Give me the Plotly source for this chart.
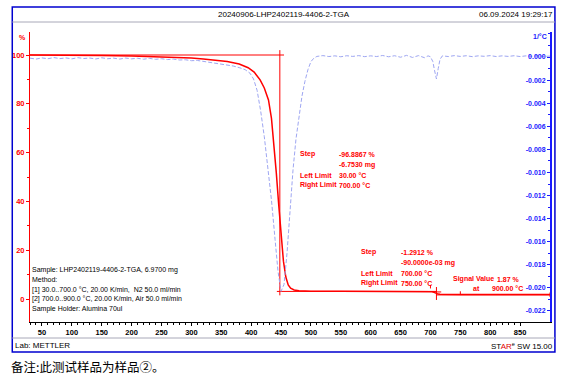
import plotly.graph_objects as go

# ---------------- data ----------------
tga_T = [30, 50, 100, 150, 200, 250, 280, 300, 320, 340, 360, 380, 395, 405, 415, 422,
         429, 434, 438, 442, 446, 450, 454, 458, 462, 466, 472, 480, 490, 500, 550, 600,
         650, 690, 700, 704, 707, 710, 713, 716, 720, 730, 750, 800, 850, 900]
tga_pct = [100.0, 100.0, 99.9, 99.8, 99.6, 99.3, 99.0, 98.8, 98.4, 97.9, 97.3, 96.3, 94.8, 93.0, 89.8, 86.5,
           81.6, 74.0, 64.0, 52.0, 39.0, 26.0, 15.5, 9.0, 5.8, 4.4, 3.7, 3.4, 3.25, 3.2, 3.15, 3.13,
           3.12, 3.11, 3.10, 2.95, 2.6, 2.25, 2.0, 1.92, 1.88, 1.86, 1.84, 1.85, 1.86, 1.87]

dtg_T = [30, 40, 50, 60, 70, 80, 90, 100, 110, 120, 130, 140, 150, 160, 170, 180, 190, 200,
         210, 220, 230, 240, 250, 260, 270, 280, 290, 300, 310, 320, 330, 340, 350, 360, 370,
         380, 390, 398, 404, 410, 416, 422, 428, 434, 440, 445, 450, 455, 460, 465, 470, 475,
         480, 485, 490, 495, 500, 505, 510, 520, 530, 540, 550, 560, 570, 580, 590, 600, 610,
         620, 630, 640, 650, 660, 670, 680, 690, 696, 700, 704, 707, 710, 713, 716, 720, 730,
         740, 750, 760, 770, 780, 790, 800, 810, 820, 830, 840, 850, 860, 870, 880, 890, 900]
dtg_v = [-0.00010, -0.00018, -0.00008, -0.00015, -0.00005, -0.00014, -0.00008, -0.00016, -0.00006,
         -0.00013, -0.00009, -0.00017, -0.00007, -0.00015, -0.00010, -0.00018, -0.00009, -0.00016,
         -0.00011, -0.00019, -0.00012, -0.00020, -0.00015, -0.00022, -0.00018, -0.00026, -0.00024,
         -0.00032, -0.00030, -0.00038, -0.00042, -0.00050, -0.00058, -0.00066, -0.00078, -0.00092,
         -0.00110, -0.0014, -0.0019, -0.0029, -0.0047, -0.0069, -0.0094, -0.0124, -0.0158, -0.0186,
         -0.0203, -0.0197, -0.0170, -0.0130, -0.0098, -0.0071, -0.0053, -0.0034, -0.0021, -0.0011,
         -0.0004, -0.0001, 0.00005, 0.00012, 0.00004, 0.00010, 0.00002, 0.00011, 0.00005, 0.00012,
         0.00003, 0.00010, 0.00004, 0.00013, 0.00002, 0.00011, -0.00002, 0.00014, -0.00004, 0.00012,
         -0.00006, 0.00010, 0.00002, -0.00040, -0.00120, -0.00190, -0.00100, -0.00020, 0.00010,
         0.00004, 0.00012, 0.00005, 0.00011, 0.00003, 0.00010, 0.00006, 0.00012, 0.00004, 0.00010,
         0.00005, 0.00011, 0.00004, 0.00010, 0.00006, 0.00012, 0.00005, 0.00008]

# evaluation results
step1_T = [30, 455]          # horizontal start line
step1_level = 100.0
step1_infl = 448
step1_end_level = 3.11
step2_infl = 710
step2_limits = [700, 750]
signal_T = 900
signal_val = 1.87

x_ticks = [50, 100, 150, 200, 250, 300, 350, 400, 450, 500, 550, 600, 650, 700, 750, 800, 850, 900]
x_text = ["50", "100", "150", "200", "250", "300", "350", "400", "450", "500", "550", "600",
          "650", "700", "750", "800", "850", "°C"]
y_ticks = [0, 20, 40, 60, 80, 100]
y2_ticks = [0.0, -0.002, -0.004, -0.006, -0.008, -0.010, -0.012, -0.014, -0.016, -0.018, -0.020, -0.022]
y2_text = ["0.000", "-0.002", "-0.004", "-0.006", "-0.008", "-0.010", "-0.012", "-0.014",
           "-0.016", "-0.018", "-0.020", "-0.022"]

# ---------------- layout helpers ----------------
W, H = 567, 379
L, R, T, B = 25, 553, 32, 322
FONT = "Liberation Sans, Arial, sans-serif"
RED = "#ff0000"
BLUE = "#1a1aff"
FRAME = "#0000d0"
PAD = 2  # annotation inner padding compensation


def px(x):
    return (x - L) / (R - L)


def py(y):
    return (B - y) / (B - T)


fig = go.Figure()
fig.add_trace(go.Scatter(x=dtg_T, y=dtg_v, yaxis="y2", mode="lines",
                         line=dict(color="#9ea6f2", width=1, dash="4px,2px"),
                         hoverinfo="skip", showlegend=False))
fig.add_trace(go.Scatter(x=tga_T, y=tga_pct, mode="lines",
                         line=dict(color=RED, width=1.5), hoverinfo="skip", showlegend=False))

# evaluation construction lines
mid2 = (step1_end_level + signal_val) / 2 + 0.4
ex = [step1_T[0], step1_T[1], None,
      step1_infl, step1_infl, None,
      step1_infl - 5, step2_infl, None,
      step2_infl, step2_infl, None,
      step2_infl - 7, step2_infl + 8, None,
      step2_limits[0], step2_limits[0], None,
      step2_limits[1], step2_limits[1], None,
      step2_infl, signal_T, None,
      signal_T, signal_T]
ey = [step1_level, step1_level, None,
      step1_level + 2, 1.5, None,
      step1_end_level, step1_end_level, None,
      step1_end_level + 1.8, -0.4, None,
      mid2, mid2, None,
      step1_end_level + 2.6, step1_end_level + 1.2, None,
      signal_val + 1.3, signal_val - 0.2, None,
      signal_val - 0.2, signal_val - 0.2, None,
      signal_val + 0.8, signal_val - 1.0]
fig.add_trace(go.Scatter(x=ex, y=ey, mode="lines", line=dict(color=RED, width=1),
                         hoverinfo="skip", showlegend=False))

annotations = []


def txt(x, y, s, color="black", size=7, anchor="left", family=FONT, weight="normal"):
    if anchor == "left":
        x -= PAD
    elif anchor == "right":
        x += PAD
    annotations.append(dict(x=px(x), y=py(y), xref="paper", yref="paper", text=s,
                            showarrow=False, xanchor=anchor, yanchor="middle",
                            font=dict(family=family, size=size, color=color, weight=weight)))


# header / footer
txt(283, 14.5, "20240906-LHP2402119-4406-2-TGA", size=8, anchor="center")
txt(556, 14.5, "06.09.2024 19:29:17", size=8, anchor="right")
txt(10, 345.5, "Lab: METTLER", size=8)
txt(556, 345.5, "ST<span style='color:#e00000'>AR</span><sup>e</sup> SW 15.00", size=8, anchor="right")
txt(6, 366, "备注:此测试样品为样品②。", size=12.5, family="Noto Sans CJK SC")

# axis unit labels
txt(17, 37, "%", color=RED, size=7, anchor="center", weight="bold")
txt(550, 36, "1/°C", color=BLUE, size=7, anchor="right", weight="bold")

# step 1 results
for (yy, a, b) in [(154, "Step", "-96.8867 %"), (165, "", "-6.7530 mg"),
                   (175, "Left Limit", "30.00 °C"), (185, "Right Limit", "700.00 °C")]:
    if a:
        txt(299, yy, a, color=RED, weight="bold")
    txt(339, yy, b, color=RED, weight="bold")

# step 2 results
for (yy, a, b) in [(252, "Step", "-1.2912 %"), (262.5, "", "-90.0000e-03 mg"),
                   (273, "Left Limit", "700.00 °C"), (283, "Right Limit", "750.00 °C")]:
    if a:
        txt(361, yy, a, color=RED, weight="bold")
    txt(402, yy, b, color=RED, weight="bold")
txt(454, 279, "Signal Value", color=RED, weight="bold")
txt(499, 279, "1.87 %", color=RED, weight="bold")
txt(475, 288.5, "at", color=RED, weight="bold")
txt(494, 288.5, "900.00 °C", color=RED, weight="bold")

# sample info
for (yy, s) in [(270, "Sample: LHP2402119-4406-2-TGA, 6.9700 mg"), (279.5, "Method:"),
                (289.5, "[1] 30.0..700.0 °C, 20.00 K/min,  N2 50.0 ml/min"),
                (299, "[2] 700.0..900.0 °C, 20.00 K/min, Air 50.0 ml/min"),
                (308.5, "Sample Holder: Alumina 70ul")]:
    txt(27, yy, s)

shapes = [
    dict(type="rect", xref="paper", yref="paper", x0=px(7), x1=px(558), y0=py(7), y1=py(352),
         line=dict(color=FRAME, width=1.5)),
    dict(type="line", xref="paper", yref="paper", x0=px(7), x1=px(558), y0=py(22), y1=py(22),
         line=dict(color="#a8a8b8", width=1)),
    dict(type="line", xref="paper", yref="paper", x0=px(7), x1=px(558), y0=py(338), y1=py(338),
         line=dict(color="#a8a8b8", width=1)),
]

y_rng = [(299 - B) / 2.44, (299 - T) / 2.44]
y2_rng = [-(B - 57) / 11545.0, (57 - T) / 11545.0]

fig.update_layout(
    width=W, height=H, margin=dict(l=L, r=W - R, t=T, b=H - B),
    paper_bgcolor="white", plot_bgcolor="white",
    annotations=annotations, shapes=shapes, showlegend=False,
    font=dict(family=FONT),
    xaxis=dict(range=[30, 900], showgrid=False, zeroline=False, showline=True,
               linecolor="black", linewidth=1, ticks="outside", ticklen=3, tickcolor="black",
               tickvals=x_ticks, ticktext=x_text, tickfont=dict(size=7.5, color="black", weight="bold"),
               minor=dict(dtick=10, tick0=0, ticks="outside", ticklen=2, tickcolor="black"),
               fixedrange=True),
    yaxis=dict(range=y_rng, showgrid=False, zeroline=False, showline=True,
               linecolor=RED, linewidth=1, ticks="outside", ticklen=3, tickcolor=RED,
               tickvals=y_ticks, tickfont=dict(size=7.5, color=RED, weight="bold"),
               minor=dict(dtick=10, tick0=0, ticks="outside", ticklen=2, tickcolor=RED),
               fixedrange=True),
    yaxis2=dict(range=y2_rng, overlaying="y", side="right", showgrid=False, zeroline=False,
                showline=True, linecolor=BLUE, linewidth=1.5, ticks="inside", ticklen=3,
                tickcolor=BLUE, ticklabelposition="inside", tickvals=y2_ticks, ticktext=y2_text,
                tickfont=dict(size=7, color=BLUE, weight="bold"),
                minor=dict(dtick=0.001, tick0=0, ticks="inside", ticklen=2, tickcolor=BLUE),
                fixedrange=True),
)

fig.write_html("out.html", config={"displayModeBar": False},
               post_script="document.body.style.margin='0';document.body.style.overflow='hidden';")
